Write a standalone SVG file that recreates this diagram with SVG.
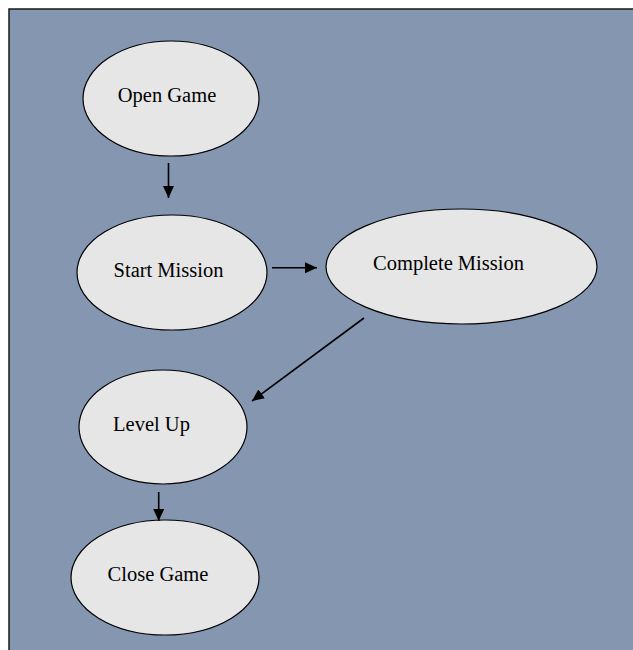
<svg xmlns="http://www.w3.org/2000/svg" width="633" height="650" viewBox="0 0 633 650">
<style>
.node ellipse{fill:#e6e6e6;stroke:#000;stroke-width:1.2}
.node text{font-family:"Liberation Serif","Times New Roman",serif;font-size:20.5px;fill:#000}
.conn line{stroke:#000;stroke-width:1.6;marker-end:url(#ah)}
</style>
<defs>
<marker id="ah" markerUnits="userSpaceOnUse" markerWidth="13" markerHeight="12" refX="12" refY="5.5" orient="auto">
<path d="M0,0 L12,5.5 L0,11 Z" fill="#000"/>
</marker>
</defs>
<rect x="9" y="9" width="640" height="660" fill="#8496b0" stroke="#1a1a1a" stroke-width="1.5"/>
<g id="open-game" class="node"><ellipse cx="171" cy="98.5" rx="88" ry="57.5"/><text x="167" y="102" text-anchor="middle">Open Game</text></g>
<g id="start-mission" class="node"><ellipse cx="172" cy="272.5" rx="95" ry="57.5"/><text x="168.5" y="277" text-anchor="middle">Start Mission</text></g>
<g id="complete-mission" class="node"><ellipse cx="461.5" cy="266.5" rx="135.5" ry="57.5"/><text x="448.5" y="270" text-anchor="middle">Complete Mission</text></g>
<g id="level-up" class="node"><ellipse cx="163" cy="427" rx="84" ry="57"/><text x="151.5" y="431" text-anchor="middle">Level Up</text></g>
<g id="close-game" class="node"><ellipse cx="165" cy="577.5" rx="94" ry="57.5"/><text x="158" y="581" text-anchor="middle">Close Game</text></g>
<g id="connectors" class="conn">
<line x1="168.5" y1="163" x2="168.5" y2="198"/>
<line x1="272" y1="267.7" x2="317" y2="267.7"/>
<line x1="364" y1="318" x2="252" y2="401"/>
<line x1="158.7" y1="492" x2="158.7" y2="521"/>
</g>
</svg>
